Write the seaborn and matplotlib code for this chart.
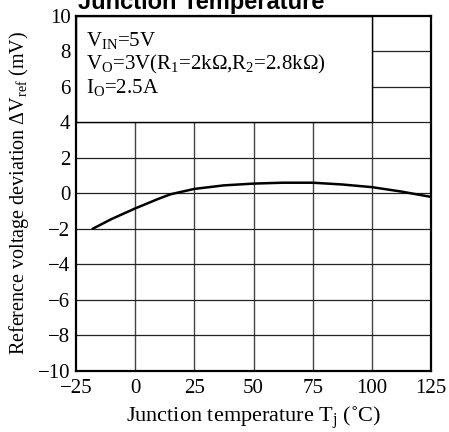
import numpy as np
import pandas as pd
import seaborn as sns
import matplotlib.pyplot as plt
from matplotlib.patches import Rectangle

# Curve
temp_c = [-18, -10, 0, 10, 15, 25, 37.5, 50, 62.5, 75, 87.5, 100, 112.5, 125]
dv_ref_mv = [-2.0, -1.45, -0.85, -0.3, -0.05, 0.25, 0.45, 0.55, 0.6, 0.6, 0.5, 0.35, 0.1, -0.2]

x_ticks = [-25, 0, 25, 50, 75, 100, 125]
y_ticks = [-10, -8, -6, -4, -2, 0, 2, 4, 6, 8, 10]
y_tick_labels = ['\u221210', '\u22128', '\u22126', '\u22124', '\u22122', '0', '2', '4', '6', '8', '10']
x_tick_labels = ['\u221225', '0', '25', '50', '75', '100', '125']

conditions = [r'V$_{\mathrm{IN}}$=5V',
              r'V$_{\mathrm{O}}$=3V(R$_{\mathrm{1}}$=2k$\Omega$,R$_{\mathrm{2}}$=2.8k$\Omega$)',
              r'I$_{\mathrm{O}}$=2.5A']

df = pd.DataFrame({'Tj': temp_c, 'dV': dv_ref_mv})

sns.set_theme(style='white')
plt.rcParams['font.family'] = ['Liberation Serif', 'DejaVu Serif']
plt.rcParams['mathtext.fontset'] = 'custom'
plt.rcParams['mathtext.rm'] = 'Liberation Serif'
plt.rcParams['mathtext.it'] = 'Liberation Serif:italic'

fig = plt.figure(figsize=(4.49, 4.32), dpi=100)
ax = fig.add_axes([76 / 449, 1 - 370.7 / 432, 355 / 449, 354.7 / 432])

# grid lines
for xv in x_ticks[1:-1]:
    ax.axvline(xv, color='#444444', lw=1.0, zorder=1)
for yv in y_ticks[1:-1]:
    ax.axhline(yv, color='#222222', lw=0.9, zorder=1)

# white box holding the test conditions
ax.add_patch(Rectangle((-25, 4), 125, 6, facecolor='white', edgecolor='black',
                       lw=1.0, zorder=2))
for i, txt in enumerate(conditions):
    ax.text(-20.8, 8.32 - i * 1.33, txt, fontsize=15, color='black',
            va='baseline', ha='left', zorder=3)

sns.lineplot(data=df, x='Tj', y='dV', ax=ax, color='black', lw=1.8, zorder=4)

ax.set_xlim(-25, 125)
ax.set_ylim(-10, 10)
ax.set_xticks(x_ticks)
ax.set_xticklabels(x_tick_labels)
ax.set_yticks(y_ticks)
ax.set_yticklabels(y_tick_labels)
ax.tick_params(length=0, labelsize=15, colors='black', pad=4)
ax.tick_params(axis='x', pad=6)
for s in ax.spines.values():
    s.set_color('black')
    s.set_linewidth(1.6)
    s.set_zorder(5)

ax.set_xlabel('Junction temperature T$_{\mathrm{j}}$ (\u02daC)', fontsize=16, color='black', labelpad=5)
ax.set_ylabel(r'Reference voltage deviation $\Delta$V$_{\mathrm{ref}}$ (mV)', fontsize=14.5,
              color='black', labelpad=5)

fig.text(78 / 449, 1 - 9 / 432, 'Junction Temperature', family='Liberation Sans',
         fontweight='bold', fontsize=17, va='baseline', ha='left', color='black')

fig.savefig('out.png', dpi=100, facecolor='white')
